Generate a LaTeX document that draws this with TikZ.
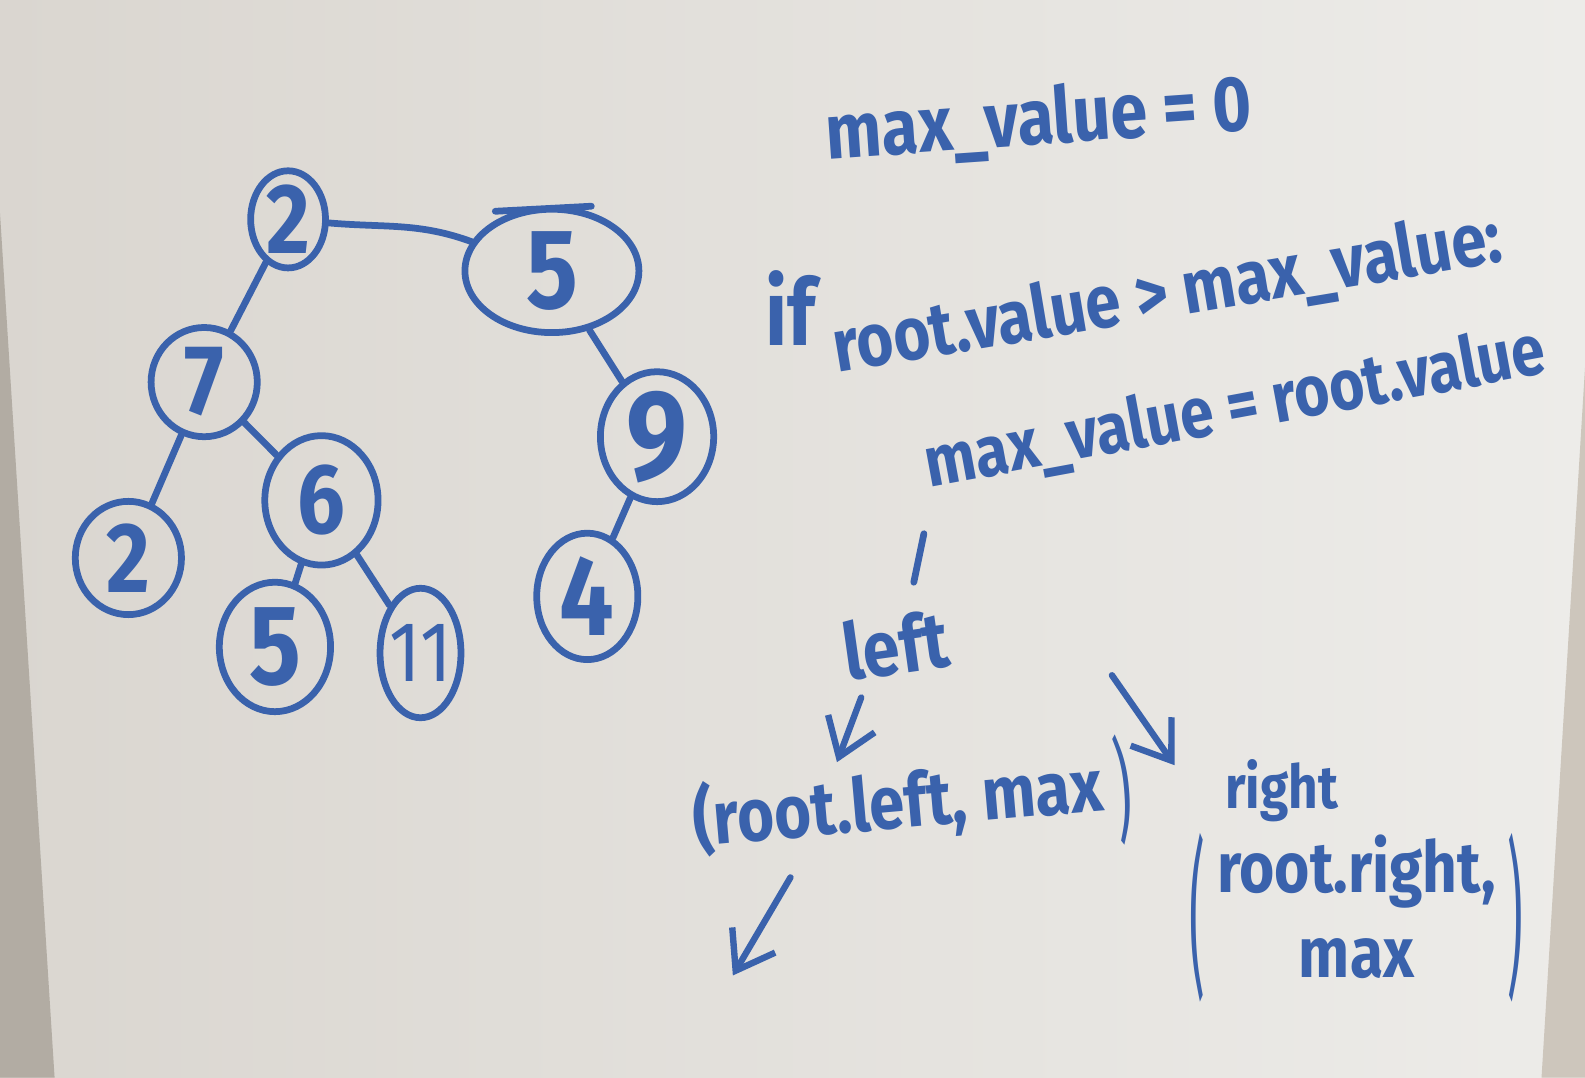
\documentclass[tikz,border=0pt]{standalone}
\usepackage{fontspec}
\setmainfont{Fira Sans}[FakeStretch=0.85]
\usetikzlibrary{arrows.meta,shapes.geometric}
\definecolor{ink}{RGB}{58,98,172}
\definecolor{boardL}{RGB}{218,214,208}
\definecolor{boardR}{RGB}{237,236,233}
\definecolor{frameL}{RGB}{178,172,163}
\definecolor{frameR}{RGB}{205,198,188}
\newcommand{\dg}[1]{\makebox[0pt]{#1}}
\newcommand{\tallparen}[2]{$\vcenter{\hbox{\scalebox{0.8}[#2]{\mdseries #1}}}$}
\begin{document}
\begin{tikzpicture}[x=0.01cm,y=-0.01cm,
  treenode/.style={ellipse, draw=ink, line width=1.9pt, text=ink, inner sep=0pt, font=\bfseries\fontsize{28}{28}\selectfont},
  edge/.style={draw=ink, line width=1.9pt, line cap=round},
  hand/.style={text=ink, inner sep=1pt, font=\bfseries\fontsize{21}{24}\selectfont},
  arr/.style={draw=ink, line width=1.8pt, line cap=round, -{Straight Barb[length=10pt,width=14pt]}}]
\useasboundingbox (0,0) rectangle (1568,1066);
\shade[left color=boardL, right color=boardR] (0,0) rectangle (1568,1066);
\fill[frameL] (0,211) -- (54,1066) -- (0,1066) -- cycle;
\fill[frameR] (1568,364) -- (1525,1066) -- (1568,1066) -- cycle;
% tree
\node[treenode, minimum width=0.74cm, minimum height=0.95cm] (r2) at (285,217) {\dg{2}};
\node[treenode, minimum width=1.72cm, minimum height=1.22cm, font=\bfseries\fontsize{32}{32}\selectfont] (n5) at (546,268) {\dg{5}};
\node[treenode, minimum width=1.05cm, minimum height=1.08cm] (n7) at (202,378) {\dg{7}};
\node[treenode, minimum width=1.12cm, minimum height=1.28cm] (n6) at (318,495) {\dg{6}};
\node[treenode, minimum width=1.12cm, minimum height=1.18cm, font=\bfseries\fontsize{36}{36}\selectfont] (n9) at (650,432) {\dg{9}};
\node[treenode, minimum width=1.05cm, minimum height=1.12cm] (n2l) at (127,552) {\dg{2}};
\node[treenode, minimum width=1.10cm, minimum height=1.28cm, font=\bfseries\fontsize{32}{32}\selectfont] (n5l) at (272,640) {\dg{5}};
\node[treenode, minimum width=0.80cm, minimum height=1.28cm, font=\mdseries\fontsize{24}{24}\selectfont] (n11) at (416,646) {\dg{11}};
\node[treenode, minimum width=1.00cm, minimum height=1.25cm, font=\bfseries\fontsize{32}{32}\selectfont] (n4) at (581,590) {\dg{4}};
\draw[edge] (r2) to[out=-5,in=160] (n5);
\draw[edge] (r2) -- (n7);
\draw[edge] (n7) -- (n2l);
\draw[edge] (n7) -- (n6);
\draw[edge] (n6) -- (n5l);
\draw[edge] (n6) -- (n11);
\draw[edge] (n5) -- (n9);
\draw[edge] (n9) -- (n4);
\draw[edge] (490,209) -- (585,204);
% code
\node[hand, font=\bfseries\fontsize{22}{24}\selectfont, rotate=4] (t0) at (1028,120) {max\_value = 0};
\node[hand, font=\bfseries\fontsize{26}{28}\selectfont] (tif) at (782,305) {if};
\node[hand, rotate=9.5] (t1) at (1155,292) {root.value > max\_value:};
\node[hand, font=\bfseries\fontsize{20}{24}\selectfont, rotate=10.5] (t2) at (1222,405) {max\_value = root.value};
\coordinate (k1) at (914,528);
\coordinate (k2) at (904,576);
\draw[edge] (k1) -- (k2);
\node[hand, font=\bfseries\fontsize{22}{24}\selectfont, rotate=8] (tleft) at (886,638) {left};
\node[hand, rotate=5] (tcall) at (903,800) {(root.left, max\,\tallparen{)}{1.5}};
\coordinate (a1s) at (852,690);
\coordinate (a1e) at (828,754);
\draw[arr] (a1s) -- (a1e);
\coordinate (a2s) at (1100,668);
\coordinate (a2e) at (1162,757);
\draw[arr] (a2s) -- (a2e);
\node[hand, font=\bfseries\fontsize{17}{20}\selectfont] (tright) at (1268,782) {right};
\node[hand, font=\bfseries\fontsize{20}{24}\selectfont] (tcall2) at (1342,908) {\tallparen{(}{2.4}\,\begin{tabular}{@{}c@{}}root.right,\\ max\end{tabular}\,\tallparen{)}{2.4}};
\coordinate (a3s) at (782,868);
\coordinate (a3e) at (725,965);
\draw[arr] (a3s) -- (a3e);
\end{tikzpicture}
\end{document}
